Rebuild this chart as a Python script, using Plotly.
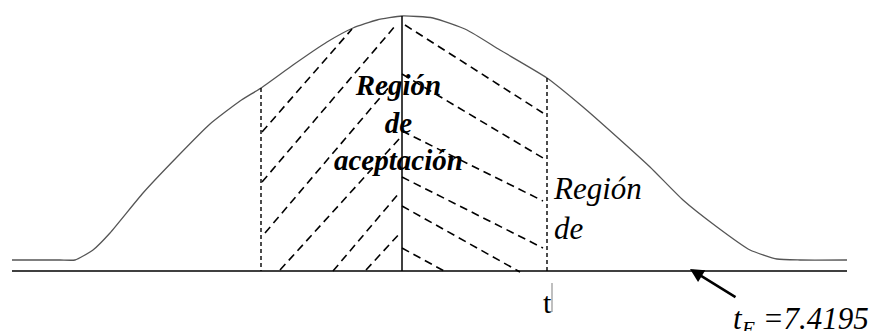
import plotly.graph_objects as go

# diagram drawn in a 876 x 331 unit box (y grows downward)
curve_x = [12, 60, 75, 93, 110, 143, 177, 210, 240, 261, 293, 327, 353, 377, 402,
           433, 467, 500, 547, 583, 617, 650, 683, 717, 750, 777, 800, 847]
curve_y = [260, 260, 260, 250, 233, 193, 157, 124, 101, 88, 65, 42, 28, 20, 16,
           18, 30, 50, 78, 107, 137, 167, 200, 227, 250, 259, 260, 260]

base_x = [12, 847]
base_y = [271, 271]

center_x = [402, 402]
center_y = [16, 271]

# dashed verticals bounding the acceptance region: (x, top y)
bound_x = [261, 547]
bound_top = [88, 78]

# hatch segments: x0, y0, x1, y1
left_hatch_x0 = [262, 262, 265, 280, 333, 366]
left_hatch_y0 = [132, 182, 233, 270, 271, 270]
left_hatch_x1 = [352, 396, 390, 400, 400, 401]
left_hatch_y1 = [29, 25, 86, 138, 192, 232]

right_hatch_x0 = [405, 402, 402, 402, 402, 402]
right_hatch_y0 = [25, 74, 131, 177, 206, 248]
right_hatch_x1 = [543, 543, 543, 543, 520, 446]
right_hatch_y1 = [113, 158, 201, 248, 272, 272]

accept_label = "Región<br>de<br>aceptación"
reject_label = "Región<br>de"
t_label = "t"
stat_label = "t<sub>E</sub> =7.4195"

serif = "Times New Roman, Liberation Serif, serif"

fig = go.Figure()

fig.add_trace(go.Scatter(x=curve_x, y=curve_y, mode="lines",
                         line=dict(color="#555555", width=1.3, shape="spline", smoothing=0.5)))
fig.add_trace(go.Scatter(x=base_x, y=base_y, mode="lines",
                         line=dict(color="black", width=1.5)))
fig.add_trace(go.Scatter(x=center_x, y=center_y, mode="lines",
                         line=dict(color="black", width=1.5)))

for bx, bt in zip(bound_x, bound_top):
    fig.add_trace(go.Scatter(x=[bx, bx], y=[bt, base_y[0]], mode="lines",
                             line=dict(color="black", width=1.4, dash="4px,3px")))

for x0, y0, x1, y1 in zip(left_hatch_x0, left_hatch_y0, left_hatch_x1, left_hatch_y1):
    fig.add_trace(go.Scatter(x=[x0, x1], y=[y0, y1], mode="lines",
                             line=dict(color="black", width=1.6, dash="8px,5px")))

for x0, y0, x1, y1 in zip(right_hatch_x0, right_hatch_y0, right_hatch_x1, right_hatch_y1):
    fig.add_trace(go.Scatter(x=[x0, x1], y=[y0, y1], mode="lines",
                             line=dict(color="black", width=1.6, dash="8px,5px")))

# little grey cursor mark after the t
fig.add_trace(go.Scatter(x=[552, 552], y=[283, 312], mode="lines",
                         line=dict(color="#aaaaaa", width=1.5)))

fig.add_annotation(x=398, y=122, text="<b><i>" + accept_label + "</i></b>",
                   showarrow=False, xanchor="center", yanchor="middle",
                   font=dict(family=serif, size=29, color="black"))
fig.add_annotation(x=551, y=208, text="<i>" + reject_label + "</i>",
                   showarrow=False, xanchor="left", yanchor="middle", align="left",
                   font=dict(family=serif, size=31, color="black"))
fig.add_annotation(x=547, y=302, text=t_label, showarrow=False,
                   xanchor="center", yanchor="middle",
                   font=dict(family=serif, size=30, color="black"))
fig.add_annotation(x=731, y=321, text="<i>" + stat_label + "</i>", showarrow=False,
                   xanchor="left", yanchor="middle",
                   font=dict(family=serif, size=31, color="black"))
fig.add_annotation(x=690, y=269, ax=737, ay=298, axref="x", ayref="y",
                   text="", showarrow=True, arrowhead=2, arrowsize=1.1,
                   arrowwidth=2.5, arrowcolor="black")

fig.update_xaxes(range=[0, 876], visible=False, fixedrange=True)
fig.update_yaxes(range=[331, 0], visible=False, fixedrange=True)
fig.update_layout(width=876, height=331, margin=dict(l=0, r=0, t=0, b=0),
                  plot_bgcolor="white", paper_bgcolor="white",
                  showlegend=False, hovermode=False)

# drop the page's default body margin so the figure sits at the window corner
fig.write_html("out.html", config={"displayModeBar": False},
               post_script="document.body.style.margin='0';")
